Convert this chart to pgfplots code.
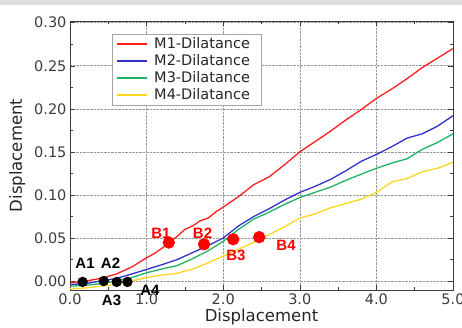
\documentclass[border=0pt]{standalone}
\usepackage{pgfplots}
\pgfplotsset{compat=1.18}
\usepackage{fontspec}
\setmainfont{DejaVu Sans}
\newfontfamily\lab{Liberation Sans}
\definecolor{cred}{RGB}{255,30,30}
\definecolor{cblue}{RGB}{50,50,200}
\definecolor{cgreen}{RGB}{30,180,100}
\definecolor{cyellow}{RGB}{255,215,30}
\definecolor{ctick}{RGB}{60,60,60}
\begin{document}
\begin{tikzpicture}
\begin{axis}[
  scale only axis,
  width=383pt, height=269pt,
  xmin=0, xmax=5, ymin=-0.0104, ymax=0.302,
  xtick={0,1,2,3,4,5}, ytick={0,0.05,0.1,0.15,0.2,0.25,0.3},
  minor x tick num=1, minor y tick num=1,
  grid=major,
  major grid style={densely dotted, gray!80, line width=0.6pt},
  axis line style={ctick, line width=0.6pt},
  tick style={ctick, line width=0.5pt},
  major tick length=5pt, minor tick length=3pt,
  xticklabel style={/pgf/number format/.cd, fixed, fixed zerofill, precision=1, assume math mode=true},
  yticklabel style={/pgf/number format/.cd, fixed, fixed zerofill, precision=2, assume math mode=true},
  tick label style={font=\fontsize{14.5}{15}\selectfont, text=ctick},
  scaled y ticks=false,
  xlabel={Displacement}, ylabel={Displacement},
  label style={font=\fontsize{16.5}{17}\selectfont, text=black!85},
  xlabel style={yshift=2pt},
  ylabel style={yshift=2pt},
  clip=false,
  legend cell align=left,
  legend style={at={(rel axis cs:0.109,0.953)}, anchor=north west,
    font=\fontsize{14.5}{14.5}\selectfont, draw=gray!70, inner xsep=4pt, inner ysep=2pt,
    row sep=0.5pt, text=black!85, nodes={inner xsep=7pt}},
  legend image code/.code={\draw[#1, line width=1.3pt] (0pt,0pt) -- (30pt,0pt);},
  every axis plot/.append style={line width=1.3pt},
]
\addplot[cred] coordinates {
(0,-0.002) (0.2,0.000) (0.4,0.003) (0.6,0.008) (0.8,0.016) (1.0,0.027) (1.1,0.032) (1.2,0.038) (1.3,0.045) (1.4,0.052) (1.5,0.060) (1.6,0.064) (1.7,0.070) (1.8,0.073) (1.9,0.080) (2.0,0.086) (2.2,0.098) (2.4,0.112) (2.6,0.121) (2.8,0.135) (3.0,0.150) (3.2,0.162) (3.4,0.174) (3.6,0.187) (3.8,0.199) (4.0,0.212) (4.2,0.223) (4.4,0.235) (4.6,0.248) (4.8,0.259) (5.0,0.270)};
\addlegendentry{M1-Dilatance}
\addplot[cblue] coordinates {
(0,-0.004) (0.2,-0.003) (0.4,0.000) (0.6,0.003) (0.8,0.008) (1.0,0.0135) (1.2,0.019) (1.4,0.025) (1.6,0.033) (1.8,0.041) (2.0,0.050) (2.2,0.064) (2.4,0.075) (2.6,0.084) (2.8,0.094) (3.0,0.103) (3.2,0.110) (3.4,0.118) (3.6,0.128) (3.8,0.139) (4.0,0.147) (4.2,0.156) (4.4,0.166) (4.6,0.171) (4.8,0.180) (5.0,0.192)};
\addlegendentry{M2-Dilatance}
\addplot[cgreen] coordinates {
(0,-0.006) (0.2,-0.005) (0.4,-0.003) (0.6,0.000) (0.8,0.004) (1.0,0.0096) (1.2,0.014) (1.4,0.018) (1.6,0.026) (1.8,0.035) (2.0,0.046) (2.2,0.060) (2.4,0.072) (2.6,0.080) (2.8,0.089) (3.0,0.097) (3.2,0.103) (3.4,0.109) (3.6,0.117) (3.8,0.124) (4.0,0.131) (4.2,0.137) (4.4,0.142) (4.6,0.153) (4.8,0.161) (5.0,0.171)};
\addlegendentry{M3-Dilatance}
\addplot[cyellow] coordinates {
(0,-0.009) (0.2,-0.008) (0.4,-0.006) (0.6,-0.004) (0.8,0.000) (1.0,0.004) (1.2,0.007) (1.4,0.009) (1.6,0.014) (1.8,0.021) (2.0,0.029) (2.2,0.037) (2.4,0.045) (2.6,0.054) (2.8,0.063) (3.0,0.073) (3.2,0.078) (3.4,0.085) (3.6,0.090) (3.8,0.095) (4.0,0.103) (4.2,0.115) (4.4,0.119) (4.6,0.127) (4.8,0.131) (5.0,0.138)};
\addlegendentry{M4-Dilatance}
\addplot[only marks, mark=*, mark size=4.5pt, black, forget plot] coordinates {
(0.165,-0.001) (0.44,0.000) (0.61,-0.001) (0.75,-0.001)};
\addplot[only marks, mark=*, mark size=5.5pt, red, forget plot] coordinates {
(1.29,0.0447) (1.75,0.0427) (2.13,0.0485) (2.47,0.051)};
\begin{scope}[every node/.style={font=\lab\bfseries\fontsize{15}{15}\selectfont}]
\node[black] at (axis cs:0.196,0.0208) {A1};
\node[black] at (axis cs:0.529,0.0208) {A2};
\node[black] at (axis cs:0.542,-0.022) {A3};
\node[black] at (axis cs:1.044,-0.011) {A4};
\node[red] at (axis cs:1.188,0.0558) {B1};
\node[red] at (axis cs:1.73,0.0558) {B2};
\node[red] at (axis cs:2.167,0.030) {B3};
\node[red] at (axis cs:2.82,0.0416) {B4};
\end{scope}
\end{axis}
\pgfresetboundingbox
\path ([shift={(-70pt,-37pt)}]current axis.south west) rectangle ([shift={(9pt,21pt)}]current axis.north east);
\fill[gray!25] ([shift={(-70pt,16pt)}]current axis.north west) rectangle ([shift={(9pt,21pt)}]current axis.north east);
\end{tikzpicture}
\end{document}
